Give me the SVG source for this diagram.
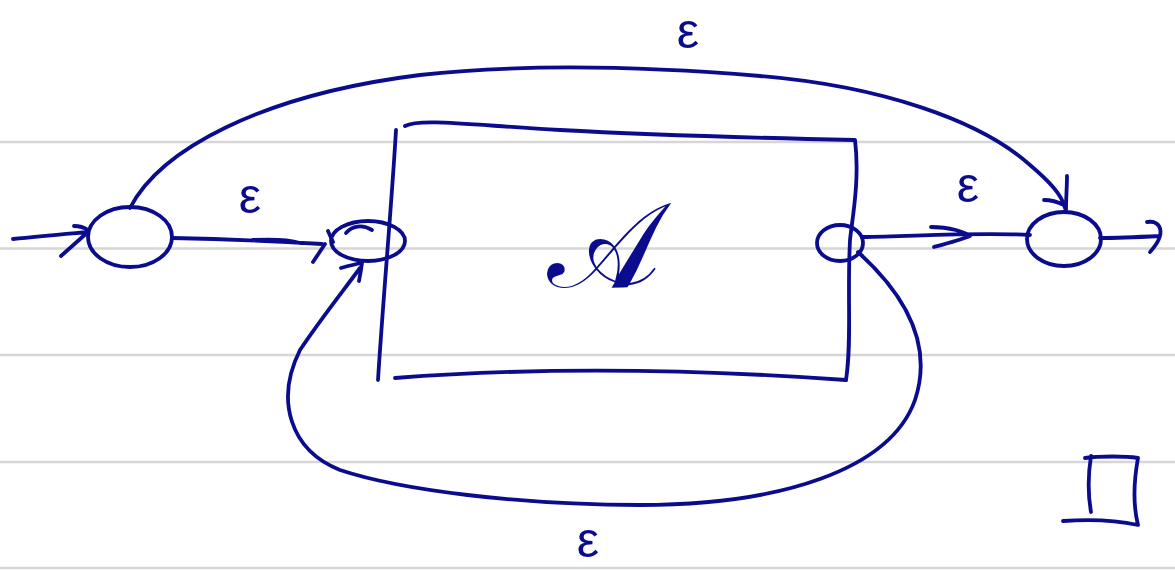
<svg xmlns="http://www.w3.org/2000/svg" width="1175" height="570" viewBox="0 0 1175 570">
<style>
.rule{stroke:#d6d6d6;stroke-width:2.5;fill:none}
.ink{stroke:#0b0b8e;stroke-width:3.8;fill:none;stroke-linecap:round;stroke-linejoin:round}
.lbl{fill:#0b0b8e;font-family:"Liberation Sans","DejaVu Sans",sans-serif;font-size:50px}
.big{fill:#0b0b8e;font-family:"DejaVu Serif","Noto Sans",serif;font-size:120px}
</style>
<rect width="1175" height="570" fill="#ffffff"/>
<g id="ruling">
<line class="rule" x1="0" y1="142" x2="1175" y2="142"/>
<line class="rule" x1="0" y1="248.5" x2="1175" y2="248.5"/>
<line class="rule" x1="0" y1="355" x2="1175" y2="355"/>
<line class="rule" x1="0" y1="462" x2="1175" y2="462"/>
<line class="rule" x1="0" y1="568" x2="1175" y2="568"/>
</g>
<g id="connectors">
<path class="ink" d="M13,239 C40,236 65,234 88,232 M61,256 L88,232 M74,226 C80,226 85,228 88,230"/>
<path class="ink" d="M172,238 C220,239 270,241 322,244 M253,240 C275,239 290,240 300,243 M325,244 L313,262 M328,231 L333,242"/>
<path class="ink" d="M130,208 C160,150 260,95 420,75 C520,64 640,66 760,76 C880,86 980,120 1030,165 C1050,182 1062,195 1065,208 M1067,176 C1067,186 1066,198 1066,210 M1044,200 C1052,200 1058,202 1064,205"/>
<path class="ink" d="M862,237 C920,236 980,232 1030,235 M931,227 C950,227 965,232 970,236 C960,240 945,244 934,247"/>
<path class="ink" d="M1100,238 C1120,238 1140,237 1160,236 M1147,222 C1160,220 1168,232 1150,252"/>
<path class="ink" d="M858,252 C900,290 935,340 915,400 C890,470 780,505 640,505 C520,505 400,490 340,470 C290,450 275,400 300,350 C320,320 340,295 360,268 M341,268 C348,266 356,264 362,263 M362,263 C361,270 360,276 359,281"/>
</g>
<g id="node-start"><ellipse class="ink" cx="130" cy="237" rx="42" ry="30"/></g>
<g id="node-in"><ellipse class="ink" cx="368" cy="241" rx="37" ry="20"/><path class="ink" d="M346,233 C352,226 362,224 372,230"/></g>
<g id="node-box">
<path class="ink" d="M396,130 C392,200 383,300 378,380"/>
<path class="ink" d="M405,126 C420,118 470,125 560,130 C650,135 760,138 855,140 C860,180 852,220 850,240 C847,300 852,340 846,380"/>
<path class="ink" d="M395,378 C500,370 650,366 846,380"/>
<text class="big" x="604" y="287" text-anchor="middle">𝒜</text>
</g>
<g id="node-out"><ellipse class="ink" cx="840" cy="243" rx="23" ry="18"/></g>
<g id="node-final"><ellipse class="ink" cx="1064" cy="239" rx="37" ry="27"/></g>
<g id="labels">
<text class="lbl" x="250" y="213" text-anchor="middle">ε</text>
<text class="lbl" x="968" y="202" text-anchor="middle">ε</text>
<text class="lbl" x="688" y="48" text-anchor="middle">ε</text>
<text class="lbl" x="588" y="557" text-anchor="middle">ε</text>
</g>
<g id="qed">
<path class="ink" d="M1085,458 C1100,456 1125,456 1138,458 C1134,480 1133,505 1138,525 C1115,520 1090,519 1063,521 M1091,456 C1088,475 1088,495 1091,512"/>
</g>
</svg>
